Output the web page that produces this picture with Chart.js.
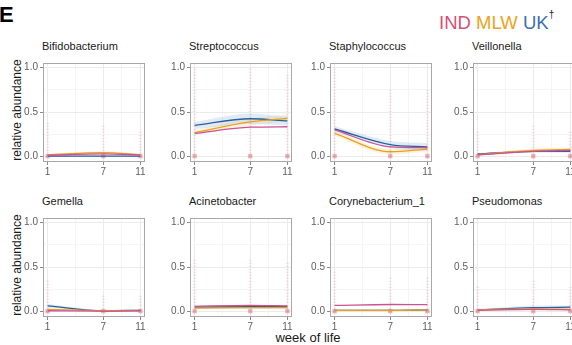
<!DOCTYPE html>
<html>
<head>
<meta charset="utf-8">
<script src="https://cdn.jsdelivr.net/npm/chart.js@4.4.0/dist/chart.umd.min.js"></script>
<style>
  body { margin:0; width:572px; height:345px; overflow:hidden; background:#fff; position:relative;
         font-family:"Liberation Sans", Arial, sans-serif; }
  .panel { position:absolute; }
  .ttl { position:absolute; font-size:11px; color:#1a1a1a; white-space:nowrap; }
  #tag { position:absolute; left:-1px; top:2px; font-size:22px; font-weight:bold; }
  #legend { position:absolute; left:439px; top:12px; font-size:18.5px; white-space:nowrap; }
  #legend sup { font-size:10px; color:#222; position:relative; top:-4px; }
  .ylab { position:absolute; font-size:12px; color:#1a1a1a; transform:rotate(-90deg); transform-origin:center; white-space:nowrap; width:110px; text-align:center; }
  #xlab { position:absolute; left:258px; top:330px; width:100px; text-align:center; font-size:13px; color:#1a1a1a; }
</style>
</head>
<body>
<div id="tag">E</div>
<div id="legend"><span style="color:#d94f74">IND</span> <span style="color:#eba321">MLW</span> <span style="color:#3c6fb4">UK</span><sup>†</sup></div>
<div class="ylab" style="left:-38px;top:103px">relative abundance</div>
<div class="ylab" style="left:-38px;top:258px">relative abundance</div>
<div id="xlab">week of life</div>

<script>
// ----------- data -----------
const weeks = [1, 7, 11];
const taxa = ['Bifidobacterium', 'Streptococcus', 'Staphylococcus', 'Veillonella',
              'Gemella', 'Acinetobacter', 'Corynebacterium_1', 'Pseudomonas'];

// fitted mean relative abundance at weeks 1, 7, 11
const indVals = [[0.015, 0.03, 0.02], [0.26, 0.33, 0.335], [0.30, 0.11, 0.10], [0.02, 0.06, 0.07],
                 [0.01, 0.005, 0.01], [0.06, 0.07, 0.065], [0.07, 0.08, 0.078], [0.015, 0.025, 0.02]];
const mlwVals = [[0.02, 0.045, 0.02], [0.27, 0.39, 0.43], [0.26, 0.055, 0.085], [0.02, 0.07, 0.08],
                 [0.025, 0.01, 0.01], [0.04, 0.045, 0.045], [0.015, 0.015, 0.02], [0.02, 0.03, 0.025]];
const ukVals  = [[0.005, 0.005, 0.005], [0.35, 0.425, 0.40], [0.31, 0.135, 0.11], [0.03, 0.06, 0.06],
                 [0.065, 0.01, 0.015], [0.05, 0.055, 0.055], [0.015, 0.015, 0.02], [0.02, 0.045, 0.05]];

// half width of the confidence ribbons
const ukBand  = [[0.01, 0.01, 0.01], [0.04, 0.06, 0.05], [0.03, 0.04, 0.04], [0.01, 0.015, 0.015],
                 [0.02, 0.01, 0.01], [0.015, 0.02, 0.02], [0.01, 0.01, 0.01], [0.01, 0.02, 0.02]];
const mlwBand = [[0.01, 0.015, 0.01], [0.03, 0.04, 0.04], [0.03, 0.03, 0.03], [0.01, 0.02, 0.02],
                 [0.01, 0.005, 0.005], [0.01, 0.015, 0.015], [0.005, 0.005, 0.005], [0.01, 0.01, 0.01]];

// highest single observation per week (spread of the raw points)
const obsMax = [[0.4, 0.35, 0.3], [1.0, 1.0, 0.92], [1.0, 0.75, 0.75], [0.3, 0.35, 0.3],
                [0.35, 0.2, 0.2], [0.6, 0.6, 0.55], [0.45, 0.4, 0.4], [0.3, 0.35, 0.3]];

const yTicks = [0, 0.25, 0.5, 0.75, 1];
const xTicks = [1, 4, 7, 9, 11];

const colIND = '#cc5296', colMLW = '#e9a01c', colUK = '#2e5f98';

// ----------- layout -----------
const boxLeft = [43, 190, 330, 473];
const boxTop = [57, 212];
const boxW = 104, boxH = 105;
const axisW = 30, axisH = 16;

// draws the grey panel border
const borderBox = {
  id: 'borderBox',
  afterDraw(chart) {
    const a = chart.chartArea, c = chart.ctx;
    c.save();
    c.strokeStyle = '#a8a8a8';
    c.lineWidth = 1;
    c.strokeRect(Math.round(a.left) + 0.5, Math.round(a.top) + 0.5, Math.round(a.width) - 1, Math.round(a.height) - 1);
    c.restore();
  }
};

function band(vals, b, sign) {
  return weeks.map((w, i) => ({x: w, y: vals[i] + sign * b[i]}));
}

function makePanel(k) {
  const col = k % 4, row = Math.floor(k / 4);
  const left = boxLeft[col], top = boxTop[row];

  const title = document.createElement('div');
  title.className = 'ttl';
  title.style.left = (left - 1) + 'px';
  title.style.top = (top - 17) + 'px';
  title.textContent = taxa[k];
  document.body.appendChild(title);

  const wrap = document.createElement('div');
  wrap.className = 'panel';
  wrap.style.left = (left - axisW) + 'px';
  wrap.style.top = (top - 2) + 'px';
  wrap.style.width = (axisW + boxW + 2) + 'px';
  wrap.style.height = (boxH + axisH + 2) + 'px';
  const cv = document.createElement('canvas');
  wrap.appendChild(cv);
  document.body.appendChild(wrap);

  const datasets = [];
  // spread of raw observations
  weeks.forEach((w, i) => {
    datasets.push({
      type: 'line', data: [{x: w, y: 0}, {x: w, y: obsMax[k][i]}],
      borderColor: 'rgba(232,120,140,0.24)', borderWidth: 3, borderDash: [1, 2],
      pointRadius: 0, order: 30
    });
  });
  // many points near zero
  datasets.push({
    type: 'scatter', data: weeks.map(w => ({x: w, y: 0.005})),
    pointStyle: 'rect', pointRadius: 3, backgroundColor: 'rgba(215,95,105,0.5)',
    borderWidth: 0, order: 25
  });
  // ribbons
  [[ukVals, ukBand, 'rgba(120,175,225,0.24)'], [mlwVals, mlwBand, 'rgba(240,190,90,0.2)']].forEach(r => {
    datasets.push({
      type: 'line', data: band(r[0][k], r[1][k], 1), borderWidth: 0, pointRadius: 0,
      cubicInterpolationMode: 'monotone', fill: '+1', backgroundColor: r[2], order: 20
    });
    datasets.push({
      type: 'line', data: band(r[0][k], r[1][k], -1), borderWidth: 0, pointRadius: 0,
      cubicInterpolationMode: 'monotone', fill: false, order: 20
    });
  });
  // fitted lines
  [[indVals, colIND], [mlwVals, colMLW], [ukVals, colUK]].forEach(s => {
    datasets.push({
      type: 'line', data: weeks.map((w, i) => ({x: w, y: s[0][k][i]})),
      borderColor: s[1], borderWidth: 1.3, pointRadius: 0,
      cubicInterpolationMode: 'monotone', fill: false, order: 1
    });
  });

  new Chart(cv, {
    type: 'line',
    data: {datasets: datasets},
    plugins: [borderBox],
    options: {
      responsive: true, maintainAspectRatio: false, animation: false,
      layout: {padding: {top: 2, right: 2, left: 0, bottom: 0}},
      plugins: {legend: {display: false}, tooltip: {enabled: false}},
      scales: {
        x: {
          type: 'linear', min: 0.5, max: 11.5,
          afterBuildTicks: s => { s.ticks = xTicks.map(v => ({value: v})); },
          afterFit: s => { s.height = axisH; },
          grid: {
            color: c => [1, 7, 11].includes(c.tick && c.tick.value) ? '#ebebeb' : '#f5f5f5',
            tickColor: c => [1, 7, 11].includes(c.tick && c.tick.value) ? '#8a8a8a' : 'rgba(0,0,0,0)',
            tickLength: 3
          },
          border: {display: false},
          ticks: {
            autoSkip: false, maxRotation: 0, padding: 1, color: '#5e5e5e', font: {size: 10},
            callback: v => [1, 7, 11].includes(v) ? String(v) : ''
          }
        },
        y: {
          type: 'linear', min: -0.06, max: 1.05,
          afterBuildTicks: s => { s.ticks = yTicks.map(v => ({value: v})); },
          afterFit: s => { s.width = axisW; },
          grid: {
            color: c => [0, 0.5, 1].includes(c.tick && c.tick.value) ? '#ebebeb' : '#f5f5f5',
            tickColor: c => [0, 0.5, 1].includes(c.tick && c.tick.value) ? '#8a8a8a' : 'rgba(0,0,0,0)',
            tickLength: 3
          },
          border: {display: false},
          ticks: {
            autoSkip: false, padding: 2, color: '#5e5e5e', font: {size: 10},
            callback: v => [0, 0.5, 1].includes(v) ? v.toFixed(1) : ''
          }
        }
      }
    }
  });
}

window.addEventListener('load', () => {
  taxa.forEach((t, k) => makePanel(k));
});
</script>
</body>
</html>
